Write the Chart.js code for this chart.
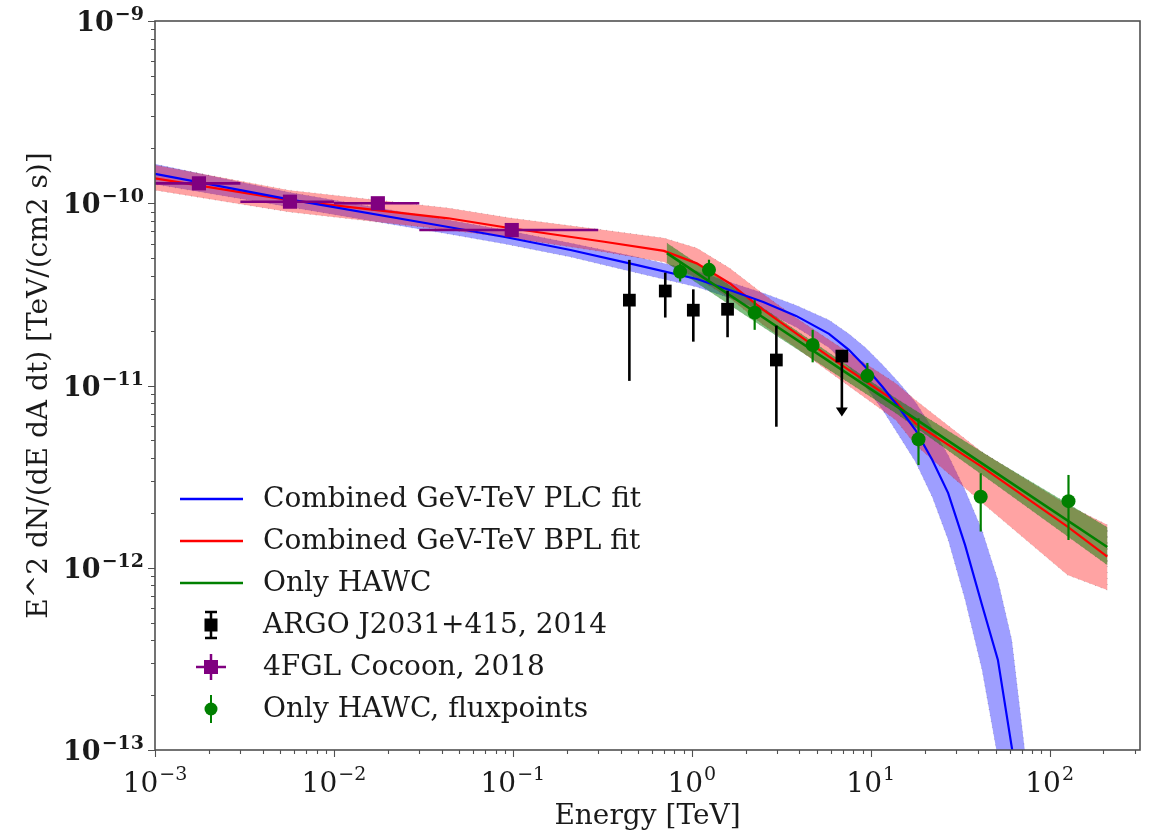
<!DOCTYPE html>
<html>
<head>
<meta charset="utf-8">
<script src="https://cdn.jsdelivr.net/npm/chart.js@4.4.1/dist/chart.umd.min.js"></script>
<style>
  html, body { margin: 0; padding: 0; background: #fff; }
  #wrap { width: 1150px; height: 835px; }
</style>
</head>
<body>
<div id="wrap"><canvas id="sed-chart" width="1150" height="835"></canvas></div>
<script>
// ----------------------------------------------------------------------
// Data
// ----------------------------------------------------------------------
const xMin = 1e-3, xMax = 320;
const yMin = 1e-13, yMax = 1e-9;
const xTickExps = [-3, -2, -1, 0, 1, 2];
const yTickExps = [-13, -12, -11, -10, -9];

// Combined GeV-TeV PLC fit (blue) + band
const plcEnergy = [1e-3, 5.62e-3, 0.0436, 0.0903, 0.210, 0.495, 1.066, 1.626, 2.51, 3.83, 5.85, 7.55, 9.38, 11.66, 14.3, 17.8, 22.1, 27.1, 33.7, 41.9, 51.4, 61.5, 72.6];
const plcFlux   = [1.45e-10, 1.05e-10, 7.41e-11, 6.53e-11, 5.54e-11, 4.58e-11, 3.84e-11, 3.34e-11, 2.87e-11, 2.41e-11, 1.92e-11, 1.57e-11, 1.26e-11, 9.81e-12, 7.62e-12, 5.70e-12, 3.90e-12, 2.57e-12, 1.33e-12, 6.25e-13, 3.12e-13, 1.03e-13, 4e-14];
const plcUpper  = [1.64e-10, 1.15e-10, 8.09e-11, 7.13e-11, 6.05e-11, 5.07e-11, 4.25e-11, 3.70e-11, 3.22e-11, 2.76e-11, 2.29e-11, 1.92e-11, 1.61e-11, 1.30e-11, 1.045e-11, 8.12e-12, 5.85e-12, 4.16e-12, 2.67e-12, 1.61e-12, 8.57e-13, 4.01e-13, 1.0e-13];
const plcLower  = [1.27e-10, 9.54e-11, 6.78e-11, 5.98e-11, 5.07e-11, 4.14e-11, 3.47e-11, 3.02e-11, 2.56e-11, 2.09e-11, 1.61e-11, 1.26e-11, 9.81e-12, 7.34e-12, 5.35e-12, 3.80e-12, 2.44e-12, 1.42e-12, 6.65e-13, 2.75e-13, 9e-14, 3.5e-14, 1e-14];

// Combined GeV-TeV BPL fit (red) + band
const bplEnergy = [1e-3, 5.62e-3, 0.0436, 0.0975, 0.324, 0.699, 1.066, 1.626, 2.51, 3.83, 5.85, 13.8, 17.8, 41.9, 125.9, 210];
const bplFlux   = [1.37e-10, 1.04e-10, 8.27e-11, 7.29e-11, 6.15e-11, 5.48e-11, 4.68e-11, 3.64e-11, 2.60e-11, 1.93e-11, 1.44e-11, 8.15e-12, 6.20e-12, 3.58e-12, 1.68e-12, 1.15e-12];
const bplUpper  = [1.62e-10, 1.18e-10, 9.42e-11, 8.30e-11, 7.13e-11, 6.45e-11, 5.68e-11, 4.41e-11, 3.18e-11, 2.35e-11, 1.78e-11, 1.03e-11, 8.32e-12, 4.32e-12, 2.21e-12, 1.72e-12];
const bplLower  = [1.18e-10, 8.95e-11, 7.13e-11, 6.45e-11, 5.40e-11, 4.76e-11, 3.89e-11, 3.02e-11, 2.15e-11, 1.61e-11, 1.19e-11, 6.47e-12, 4.72e-12, 2.27e-12, 9.12e-13, 7.55e-13];

// Only HAWC fit (green) + band
const hawcEnergy = [0.726, 2.51, 13.77, 49.5, 210];
const hawcFlux   = [5.33e-11, 2.36e-11, 7.75e-12, 3.35e-12, 1.30e-12];
const hawcUpper  = [6.05e-11, 2.66e-11, 8.54e-12, 3.90e-12, 1.67e-12];
const hawcLower  = [4.70e-11, 2.09e-11, 7.07e-12, 2.88e-12, 1.035e-12];

// ARGO J2031+415, 2014
const argoEnergy = [0.448, 0.711, 1.02, 1.585, 2.97, 6.9];
const argoFlux   = [2.94e-11, 3.30e-11, 2.59e-11, 2.62e-11, 1.38e-11, 1.45e-11];
const argoLow    = [1.06e-11, 2.36e-11, 1.74e-11, 1.84e-11, 5.94e-12, 6.75e-12];
const argoHigh   = [4.89e-11, 4.16e-11, 3.37e-11, 3.31e-11, 2.13e-11, 1.45e-11];
const argoUpLim  = [false, false, false, false, false, true];

// 4FGL Cocoon, 2018
const fglEnergy  = [1.76e-3, 5.68e-3, 1.76e-2, 9.86e-2];
const fglFlux    = [1.286e-10, 1.02e-10, 1.0e-10, 7.13e-11];
const fglEmin    = [1e-3, 3e-3, 1e-2, 3e-2];
const fglEmax    = [3e-3, 1e-2, 3e-2, 3e-1];
const fglLow     = [1.21e-10, 0.96e-10, 0.94e-10, 6.7e-11];
const fglHigh    = [1.36e-10, 1.08e-10, 1.06e-10, 7.6e-11];

// Only HAWC, fluxpoints
const hawcPtEnergy = [0.861, 1.248, 2.247, 4.74, 9.58, 18.5, 41.2, 127.5];
const hawcPtFlux   = [4.21e-11, 4.31e-11, 2.51e-11, 1.667e-11, 1.13e-11, 5.07e-12, 2.45e-12, 2.32e-12];
const hawcPtLow    = [3.72e-11, 3.80e-11, 2.02e-11, 1.34e-11, 1.03e-11, 3.66e-12, 1.58e-12, 1.42e-12];
const hawcPtHigh   = [4.68e-11, 4.90e-11, 2.94e-11, 2.02e-11, 1.33e-11, 6.61e-12, 3.30e-12, 3.23e-12];

const legendLabels = [
    'Combined GeV-TeV PLC fit',
    'Combined GeV-TeV BPL fit',
    'Only HAWC',
    'ARGO J2031+415, 2014',
    '4FGL Cocoon, 2018',
    'Only HAWC, fluxpoints'
];

// ----------------------------------------------------------------------
// helpers
// ----------------------------------------------------------------------
const pts = (xs, ys) => xs.map((x, i) => ({ x, y: ys[i] }));
// closed outline: upper edge forward, lower edge back
const band = (xs, up, lo) => pts(xs, up).concat(pts(xs, lo).reverse());

const SERIF = '"DejaVu Serif", serif';
const TEXT = '#1a1a1a';

function drawPow(ctx, exp, x, y, align, baseFont, expFont, rise) {
    const base = '10';
    const sup = exp < 0 ? '\u2212' + (-exp) : String(exp);
    ctx.font = baseFont;
    const wb = ctx.measureText(base).width;
    ctx.font = expFont;
    const we = ctx.measureText(sup).width;
    const start = align === 'right' ? x - wb - we - 1 : x - (wb + we + 1) / 2;
    ctx.textAlign = 'left';
    ctx.textBaseline = 'alphabetic';
    ctx.font = baseFont;
    ctx.fillText(base, start, y);
    ctx.font = expFont;
    ctx.fillText(sup, start + wb + 1, y - rise);
}

// ----------------------------------------------------------------------
// plugins: error bars, axes frame/ticks, legend
// ----------------------------------------------------------------------
const errorBars = {
    id: 'errorBars',
    beforeDatasetDraw(chart, args) {
        const ds = chart.data.datasets[args.index];
        if (!ds.errors) return;
        const { ctx, chartArea: a, scales: { x, y } } = chart;
        ctx.save();
        ctx.beginPath();
        ctx.rect(a.left, a.top, a.right - a.left, a.bottom - a.top);
        ctx.clip();
        ctx.strokeStyle = ds.errColor;
        ctx.fillStyle = ds.errColor;
        ctx.lineWidth = ds.errWidth;
        ds.errors.forEach(e => {
            const px = x.getPixelForValue(e.x);
            const py = y.getPixelForValue(e.y);
            ctx.beginPath();
            if (e.xLow !== undefined) {
                ctx.moveTo(x.getPixelForValue(e.xLow), py);
                ctx.lineTo(x.getPixelForValue(e.xHigh), py);
            }
            const top = y.getPixelForValue(e.yHigh);
            const bot = y.getPixelForValue(e.yLow);
            ctx.moveTo(px, e.ul ? py : top);
            ctx.lineTo(px, e.ul ? bot - 8 : bot);
            ctx.stroke();
            if (e.ul) {
                ctx.beginPath();
                ctx.moveTo(px - 6, bot - 9);
                ctx.lineTo(px + 6, bot - 9);
                ctx.lineTo(px, bot);
                ctx.closePath();
                ctx.fill();
            }
        });
        ctx.restore();
    }
};

const axisDecor = {
    id: 'axisDecor',
    afterDraw(chart) {
        const { ctx, chartArea: a, scales: { x, y } } = chart;
        ctx.save();
        ctx.strokeStyle = '#505050';
        ctx.lineWidth = 1.6;
        ctx.strokeRect(a.left, a.top, a.right - a.left, a.bottom - a.top);

        // ticks (outward)
        ctx.lineWidth = 1.1;
        ctx.beginPath();
        for (let d = -3; d <= 2; d++) {
            for (let m = 1; m <= 9; m++) {
                const v = m * Math.pow(10, d);
                if (v > xMax) break;
                const px = Math.round(x.getPixelForValue(v)) + 0.5;
                ctx.moveTo(px, a.bottom);
                ctx.lineTo(px, a.bottom + (m === 1 ? 7 : 4));
            }
        }
        for (let d = -13; d <= -9; d++) {
            for (let m = 1; m <= 9; m++) {
                const v = m * Math.pow(10, d);
                if (v > yMax * 1.0001) break;
                const py = Math.round(y.getPixelForValue(v)) + 0.5;
                ctx.moveTo(a.left, py);
                ctx.lineTo(a.left - (m === 1 ? 7 : 4), py);
            }
        }
        ctx.stroke();

        // tick labels
        ctx.fillStyle = TEXT;
        xTickExps.forEach(e => {
            drawPow(ctx, e, x.getPixelForValue(Math.pow(10, e)), a.bottom + 42,
                'center', '28px ' + SERIF, '19px ' + SERIF, 12);
        });
        yTickExps.forEach(e => {
            drawPow(ctx, e, a.left - 11, y.getPixelForValue(Math.pow(10, e)) + 10,
                'right', 'bold 27px ' + SERIF, 'bold 19px ' + SERIF, 11);
        });

        // axis titles
        ctx.font = '28px ' + SERIF;
        ctx.textAlign = 'center';
        ctx.textBaseline = 'middle';
        ctx.fillText('Energy [TeV]', (a.left + a.right) / 2, 817);
        ctx.translate(40, (a.top + a.bottom) / 2);
        ctx.rotate(-Math.PI / 2);
        ctx.fillText('E^2 dN/(dE dA dt) [TeV/(cm2 s)]', 0, 0);
        ctx.restore();
    }
};

const legendBox = {
    id: 'legendBox',
    afterDraw(chart) {
        const { ctx } = chart;
        const rowY = i => 499 + i * 42;
        const hx = 211;
        ctx.save();
        // line handles
        ['#0000ff', '#ff0000', '#008000'].forEach((c, i) => {
            ctx.strokeStyle = c;
            ctx.lineWidth = 2.5;
            ctx.beginPath();
            ctx.moveTo(180, rowY(i));
            ctx.lineTo(243, rowY(i));
            ctx.stroke();
        });
        // ARGO: bar with caps + square
        let cy = rowY(3);
        ctx.strokeStyle = '#000';
        ctx.fillStyle = '#000';
        ctx.lineWidth = 2.5;
        ctx.beginPath();
        ctx.moveTo(hx, cy - 13); ctx.lineTo(hx, cy + 13);
        ctx.moveTo(hx - 6, cy - 13); ctx.lineTo(hx + 6, cy - 13);
        ctx.moveTo(hx - 6, cy + 13); ctx.lineTo(hx + 6, cy + 13);
        ctx.stroke();
        ctx.fillRect(hx - 6.5, cy - 6.5, 13, 13);
        // 4FGL: cross + square
        cy = rowY(4);
        ctx.strokeStyle = '#800080';
        ctx.fillStyle = '#800080';
        ctx.beginPath();
        ctx.moveTo(hx - 15, cy); ctx.lineTo(hx + 15, cy);
        ctx.moveTo(hx, cy - 13); ctx.lineTo(hx, cy + 13);
        ctx.stroke();
        ctx.fillRect(hx - 7, cy - 7, 14, 14);
        // HAWC points: bar + circle
        cy = rowY(5);
        ctx.strokeStyle = '#008000';
        ctx.fillStyle = '#008000';
        ctx.lineWidth = 2;
        ctx.beginPath();
        ctx.moveTo(hx, cy - 14); ctx.lineTo(hx, cy + 14);
        ctx.stroke();
        ctx.beginPath();
        ctx.arc(hx, cy, 6.5, 0, Math.PI * 2);
        ctx.fill();

        ctx.fillStyle = TEXT;
        ctx.font = '28px ' + SERIF;
        ctx.textAlign = 'left';
        ctx.textBaseline = 'middle';
        legendLabels.forEach((t, i) => ctx.fillText(t, 263, rowY(i) + 1));
        ctx.restore();
    }
};

// ----------------------------------------------------------------------
// datasets
// ----------------------------------------------------------------------
const bandStyle = (fill) => ({
    fill: 'shape',
    backgroundColor: fill,
    borderColor: 'rgba(0,0,0,0.22)',
    borderWidth: 1,
    borderDash: [1, 5],
    pointRadius: 0,
    tension: 0
});
const lineStyle = (c, w) => ({
    fill: false,
    borderColor: c,
    borderWidth: w,
    pointRadius: 0,
    tension: 0
});

const datasets = [
    { data: band(plcEnergy, plcUpper, plcLower), order: 30, ...bandStyle('rgba(0,0,255,0.38)') },
    { data: band(bplEnergy, bplUpper, bplLower), order: 29, ...bandStyle('rgba(255,0,0,0.36)') },
    { data: band(hawcEnergy, hawcUpper, hawcLower), order: 28, ...bandStyle('rgba(0,128,0,0.5)') },
    { data: pts(bplEnergy, bplFlux), order: 22, ...lineStyle('#ff0000', 2.2) },
    { data: pts(plcEnergy, plcFlux), order: 21, ...lineStyle('#0000ff', 2.2) },
    { data: pts(hawcEnergy, hawcFlux), order: 20, ...lineStyle('#008000', 2.6) },
    {
        data: pts(argoEnergy, argoFlux), order: 3, showLine: false,
        pointStyle: 'rect', pointRadius: 9, pointBackgroundColor: '#000', pointBorderWidth: 0,
        errColor: '#000', errWidth: 2.6,
        errors: argoEnergy.map((e, i) => ({ x: e, y: argoFlux[i], yLow: argoLow[i], yHigh: argoHigh[i], ul: argoUpLim[i] }))
    },
    {
        data: pts(fglEnergy, fglFlux), order: 2, showLine: false,
        pointStyle: 'rect', pointRadius: 10, pointBackgroundColor: '#800080', pointBorderWidth: 0,
        errColor: '#800080', errWidth: 2.6,
        errors: fglEnergy.map((e, i) => ({ x: e, y: fglFlux[i], xLow: fglEmin[i], xHigh: fglEmax[i], yLow: fglLow[i], yHigh: fglHigh[i] }))
    },
    {
        data: pts(hawcPtEnergy, hawcPtFlux), order: 1, showLine: false,
        pointStyle: 'circle', pointRadius: 7, pointBackgroundColor: '#008000', pointBorderWidth: 0,
        errColor: '#008000', errWidth: 2.2,
        errors: hawcPtEnergy.map((e, i) => ({ x: e, y: hawcPtFlux[i], yLow: hawcPtLow[i], yHigh: hawcPtHigh[i] }))
    }
];

// ----------------------------------------------------------------------
// chart
// ----------------------------------------------------------------------
new Chart(document.getElementById('sed-chart').getContext('2d'), {
    type: 'line',
    data: { datasets },
    options: {
        responsive: false,
        animation: false,
        devicePixelRatio: 1,
        layout: { padding: { top: 21, right: 3, left: 0, bottom: 0 } },
        plugins: { legend: { display: false }, tooltip: { enabled: false } },
        scales: {
            x: {
                type: 'logarithmic', min: xMin, max: xMax,
                ticks: { display: false }, grid: { display: false }, border: { display: false },
                afterFit: s => { s.height = 85; }
            },
            y: {
                type: 'logarithmic', min: yMin, max: yMax,
                ticks: { display: false }, grid: { display: false }, border: { display: false },
                afterFit: s => { s.width = 155; }
            }
        }
    },
    plugins: [errorBars, axisDecor, legendBox]
});
</script>
</body>
</html>
